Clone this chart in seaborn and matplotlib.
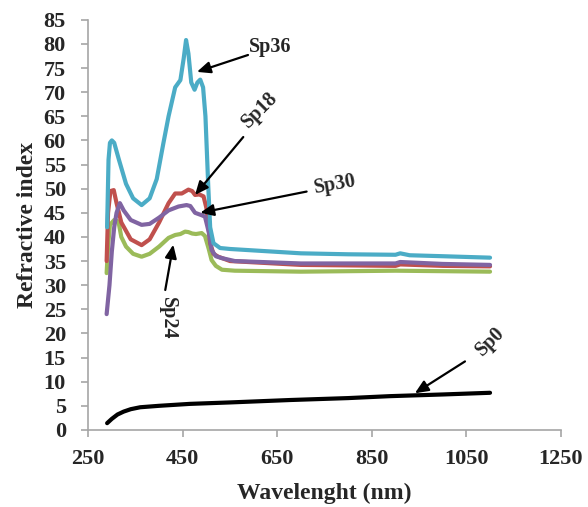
import numpy as np
import pandas as pd
import matplotlib
matplotlib.use("Agg")
import matplotlib.pyplot as plt
import seaborn as sns

# values
sp36_x = [290, 293, 296, 300, 305, 315, 330, 345, 363, 380, 395, 409, 420, 434, 445, 452, 457,
          462, 468, 475, 481, 487, 493, 498, 504, 508, 515, 529, 550, 600, 700, 800, 900, 910,
          930, 1000, 1100]
sp36_y = [42, 56, 59.5, 60, 59.5, 56, 51, 48, 46.6, 48, 52, 59.4, 65, 71, 72.5, 77, 80.8,
          78, 72, 70.5, 72, 72.6, 71, 65, 50.4, 42, 38.7, 37.7, 37.5, 37.2, 36.6, 36.4, 36.3, 36.6,
          36.2, 36.0, 35.7]

sp18_x = [289, 292, 297, 304, 310, 320, 340, 363, 380, 400, 420, 434, 448, 462, 470, 476, 485,
          494, 500, 508, 515, 525, 550, 700, 900, 910, 1000, 1100]
sp18_y = [35, 45, 49.5, 49.7, 47, 43, 39.5, 38.3, 39.5, 43, 47, 49, 49, 49.8, 49.5, 48.7, 48.8,
          48.4, 46, 38.7, 36.5, 35.9, 35, 34.2, 34, 34.3, 34, 33.9]

sp30_x = [289, 295, 300, 305, 310, 317, 325, 340, 363, 380, 400, 420, 441, 458, 466, 476, 490,
          497, 505, 511, 520, 533, 560, 700, 900, 910, 1000, 1100]
sp30_y = [24, 30, 37, 42, 45, 47, 45.5, 43.5, 42.5, 42.7, 44, 45.5, 46.3, 46.6, 46.4, 45, 44.5,
          44.2, 41, 37.3, 36, 35.6, 35, 34.5, 34.5, 34.8, 34.4, 34.2]

sp24_x = [289, 292, 296, 305, 314, 320, 330, 345, 363, 380, 400, 420, 434, 445, 455, 462, 470,
          478, 490, 497, 505, 511, 520, 533, 560, 700, 900, 1000, 1100]
sp24_y = [32.5, 38, 42.5, 43.5, 43.2, 40, 38, 36.5, 35.9, 36.5, 38, 39.8, 40.4, 40.6, 41.1, 41.0,
          40.7, 40.6, 40.8, 40.2, 37.5, 35.2, 34, 33.2, 33, 32.8, 33, 32.9, 32.8]

sp0_x = [290, 300, 312, 325, 340, 360, 400, 465, 550, 677, 800, 888, 1000, 1100]
sp0_y = [1.4, 2.3, 3.2, 3.8, 4.3, 4.7, 5.0, 5.4, 5.7, 6.2, 6.6, 7.0, 7.35, 7.7]

x_ticks = [250, 450, 650, 850, 1050, 1250]
y_ticks = list(range(0, 90, 5))

series = {
    "Sp0": (sp0_x, sp0_y),
    "Sp24": (sp24_x, sp24_y),
    "Sp18": (sp18_x, sp18_y),
    "Sp30": (sp30_x, sp30_y),
    "Sp36": (sp36_x, sp36_y),
}
colors = {"Sp0": "#000000", "Sp24": "#9BBB59", "Sp18": "#C0504D",
          "Sp30": "#8064A2", "Sp36": "#4BACC6"}

frames = []
for name, (xs, ys) in series.items():
    frames.append(pd.DataFrame({"wl": xs, "n": ys, "sample": name}))
df = pd.concat(frames, ignore_index=True)

sns.set_style("ticks")
plt.rcParams["font.family"] = ["Liberation Serif", "DejaVu Serif"]

fig = plt.figure(figsize=(5.88, 5.07), dpi=100)
ax = fig.add_axes([0.15, 0.152, 0.804, 0.809])

sns.lineplot(data=df, x="wl", y="n", hue="sample", palette=colors, estimator=None,
             linewidth=3, legend=False, ax=ax)

ax.set_xlim(250, 1250)
ax.set_ylim(0, 85)
ax.set_xticks(x_ticks)
ax.set_yticks(y_ticks)
ax.tick_params(axis="both", labelsize=16, color="#A6A6A6", length=5, width=1.2)
ax.tick_params(axis="x", pad=9)
ax.tick_params(axis="y", pad=11)
for lab in ax.get_xticklabels() + ax.get_yticklabels():
    lab.set_fontweight("bold")
sns.despine(ax=ax)
for s in ["left", "bottom"]:
    ax.spines[s].set_color("#A6A6A6")
    ax.spines[s].set_linewidth(1.2)

ax.set_xlabel("Wavelenght (nm)", fontsize=17, fontweight="bold", labelpad=10)
ax.set_ylabel("Refractive index", fontsize=17, fontweight="bold", labelpad=4)

arrow = dict(arrowstyle="-|>,head_length=0.8,head_width=0.35", color="black", lw=1.6,
             shrinkA=0, shrinkB=0)
txt = dict(fontsize=14.5, fontweight="bold", ha="center", va="center")

ax.annotate("", xy=(480, 74.2), xytext=(588, 77.7), arrowprops=arrow)
ax.text(635, 79.4, "Sp36", **txt)

ax.annotate("", xy=(476, 48.7), xytext=(578, 60.7), arrowprops=arrow)
ax.text(613, 66.3, "Sp18", rotation=45, **txt)

ax.annotate("", xy=(487, 45), xytext=(712, 49.4), arrowprops=arrow)
ax.text(772, 50.8, "Sp30", rotation=10, **txt)

ax.annotate("", xy=(430, 38.4), xytext=(413, 29), arrowprops=arrow)
ax.text(419, 23.2, "Sp24", rotation=-90, **txt)

ax.annotate("", xy=(941, 7.6), xytext=(1047, 14.2), arrowprops=arrow)
ax.text(1100, 18.3, "Sp0", rotation=45, **txt)

fig.savefig("out.png", dpi=100)
